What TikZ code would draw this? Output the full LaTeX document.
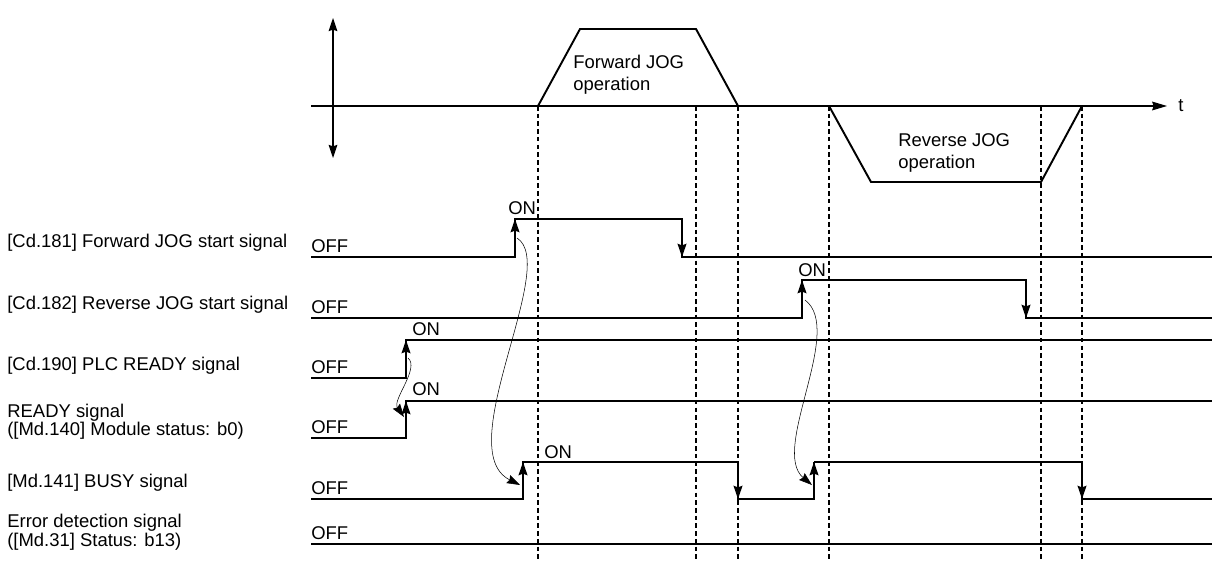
\documentclass[tikz,border=0pt]{standalone}
\usepackage{fontspec}
\setmainfont{Liberation Sans}
\usetikzlibrary{arrows.meta, positioning}

\begin{document}
\begin{tikzpicture}[x=0.02cm, y=-0.02cm,
	every node/.style={inner sep=0pt, font=\fontsize{10.5}{10.4}\selectfont},
	optext/.style={align=left, font=\fontsize{10.5}{12.4}\selectfont},
	sig/.style={line width=1.1pt},
	thinsig/.style={line width=0.7pt},
	axisline/.style={line width=0.6pt},
	guide/.style={line width=0.6pt, dash pattern=on 2.6pt off 1.8pt},
	tip/.style={-{Stealth[length=7.5pt,width=5pt,inset=0.9pt]}},
	cause/.style={line width=0.3pt,-{Stealth[length=7.5pt,width=5pt,inset=0.9pt]}}]
\useasboundingbox (0,0) rectangle (1212,561);

% speed profile
\draw[axisline,{Stealth[length=7.5pt,width=5pt,inset=0.9pt]}-{Stealth[length=7.5pt,width=5pt,inset=0.9pt]}] (333,18) -- (333,158);
\draw[axisline,-{Stealth[length=8.5pt,width=5pt,inset=0.9pt]}] (311,106) -- (1167,106);
\node[anchor=west] (t) at (1178,106) {t};
\draw[sig] (538,106) -- (580,29) -- (696,29) -- (738,106);
\draw[sig] (829,106) -- (871,182) -- (1041,182) -- (1082,106);
\node[optext,anchor=north west] (fwdop) at (573,55) {Forward JOG\\operation};
\node[optext,anchor=north west] (revop) at (898,133) {Reverse JOG\\operation};

% timing guides
\foreach \xg in {538,696,738,829,1041,1082}
	\draw[guide] (\xg,106) -- (\xg,561);

% signal names
\node[anchor=base west] (n181) at (7,247) {[Cd.181] Forward JOG start signal};
\node[anchor=base west] (n182) at (7,309) {[Cd.182] Reverse JOG start signal};
\node[anchor=base west] (n190) at (7,370) {[Cd.190] PLC READY signal};
\node[anchor=north west,align=left] (nrdy) at (7,404) {READY signal\\([Md.140] Module status: b0)};
\node[anchor=base west] (nbusy) at (7,487) {[Md.141] BUSY signal};
\node[anchor=north west,align=left] (nerr) at (7,514) {Error detection signal\\([Md.31] Status: b13)};

% [Cd.181]
\draw[sig] (311,257) -| (515,219) -| (682,257) -- (1212,257);
\draw[sig,tip] (515,257) -- (515,219);
\draw[sig,tip] (682,219) -- (682,257);
\node[anchor=base west] (off181) at (311,252) {OFF};
\node[anchor=base west] (on181) at (508,214) {ON};

% [Cd.182]
\draw[sig] (311,318) -| (802,280) -| (1026,318) -- (1212,318);
\draw[sig,tip] (802,318) -- (802,280);
\draw[sig,tip] (1026,280) -- (1026,318);
\node[anchor=base west] (off182) at (311,313) {OFF};
\node[anchor=base west] (on182) at (798,276) {ON};

% [Cd.190]
\draw[sig] (311,378) -| (406,340) -- (1212,340);
\draw[sig,tip] (406,378) -- (406,340);
\node[anchor=base west] (off190) at (311,373) {OFF};
\node[anchor=base west] (on190) at (412,335) {ON};

% READY
\draw[sig] (311,438) -| (406,401) -- (1212,401);
\draw[sig,tip] (406,438) -- (406,401);
\node[anchor=base west] (offrdy) at (311,433) {OFF};
\node[anchor=base west] (onrdy) at (412,395) {ON};

% BUSY
\draw[sig] (311,499) -| (523,462) -| (738,499) -| (814,462);
\draw[thinsig] (814,462) -| (1082,499) -- (1212,499);
\draw[sig,tip] (523,499) -- (523,462);
\draw[sig,tip] (738,462) -- (738,499);
\draw[sig,tip] (814,499) -- (814,462);
\draw[sig,tip] (1082,462) -- (1082,499);
\node[anchor=base west] (offbusy) at (311,494) {OFF};
\node[anchor=base west] (onbusy) at (544,458) {ON};

% error detection
\draw[sig] (311,544) -- (1212,544);
\node[anchor=base west] (offerr) at (311,539) {OFF};

% cause and effect
\coordinate (fwdup) at (517,238);
\coordinate (busyup1) at (520,485);
\coordinate (plcup) at (408,358);
\coordinate (rdyup) at (404,417);
\coordinate (revup) at (805,300);
\coordinate (busyup2) at (812,485);
\draw[cause] (fwdup) .. controls (560,265) and (450,450) .. (busyup1);
\draw[cause] (plcup) .. controls (420,368) and (392,400) .. (rdyup);
\draw[cause] (revup) .. controls (845,330) and (770,450) .. (busyup2);
\end{tikzpicture}
\end{document}
